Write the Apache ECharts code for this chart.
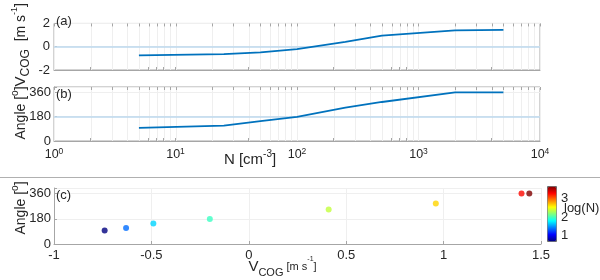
<!DOCTYPE html>
<html><head><meta charset="utf-8">
<script src="https://cdn.jsdelivr.net/npm/echarts@6/dist/echarts.min.js"></script>
<style>html,body{margin:0;padding:0;background:#fff}#c{width:600px;height:280px}</style>
</head><body><div id="c"></div>
<script>
// ---- data ----
const N = [5, 25, 50, 100, 250, 500, 2000, 5000];
const vcog = [-0.74, -0.63, -0.49, -0.20, 0.41, 0.96, 1.40, 1.44];
const angle = [97, 114, 147, 178, 247, 289, 360, 360];
const logTicks = [1,2,3,4,5,6,7,8,9,10,20,30,40,50,60,70,80,90,100,200,300,400,500,600,700,800,900,1000,2000,3000,4000,5000,6000,7000,8000,9000,10000];
const angleTicks = [0, 180, 360];
const cbTicks = [1, 2, 3];
const jet = ['#00007f','#0000ff','#007fff','#00ffff','#7fff7f','#ffff00','#ff7f00','#ff0000','#7f0000'];

// ---- styles ----
const FONT = '"Liberation Sans", Arial, sans-serif';
const TXT = '#262626';
const AX = '#a6a6a6';
const GRIDC = '#efefef';
const BLUE = '#0072BD';
const REF = '#bcd9ee';

const lineData = N.map((n, i) => [n, vcog[i]]);
const angData = N.map((n, i) => [n, angle[i]]);
const scatData = N.map((n, i) => [vcog[i], angle[i], Math.log10(n)]);
const gridData = logTicks.map(v => [v]);

const chart = echarts.init(document.getElementById('c'), null, {renderer: 'canvas'});

const lbl = {color: TXT, fontFamily: FONT, fontSize: 13};
const axLine = {show: true, onZero: false, lineStyle: {color: AX, width: 1}};
const tickIn = {show: true, inside: true, length: 3, lineStyle: {color: AX}};
const split = {show: true, lineStyle: {color: GRIDC, width: 1}};
function rn(v, sub, t, sup) {
  return {
    v: {fontSize: v, fontFamily: FONT, color: TXT, lineHeight: 22},
    sub: {fontSize: sub, fontFamily: FONT, color: TXT, verticalAlign: 'bottom', lineHeight: 14},
    t: {fontSize: t, fontFamily: FONT, color: TXT, lineHeight: 22},
    sup: {fontSize: sup, fontFamily: FONT, color: TXT, verticalAlign: 'top', lineHeight: 14}
  };
}
const logFmt = v => '{n|10}{sup|' + Math.round(Math.log10(v)) + '}';
const angFmt = v => (angleTicks.indexOf(v) >= 0 ? String(v) : '');

function logAxis(grid, labels, extra) {
  return Object.assign({
    type: 'log', logBase: 10, gridIndex: grid, position: 'bottom', min: 1, max: 10000,
    axisLine: axLine,
    axisTick: Object.assign({}, tickIn, {customValues: logTicks}),
    axisLabel: labels ? Object.assign({}, lbl, {margin: 6, formatter: logFmt,
      rich: {n: {fontSize: 12.5, fontFamily: FONT, color: TXT, lineHeight: 16},
             sup: {fontSize: 8.5, fontFamily: FONT, color: TXT, verticalAlign: 'top', lineHeight: 10}}}) : {show: false},
    splitLine: {show: false}
  }, extra || {});
}

// vertical grid lines (and top ticks) at every log tick, placed through the axis scale
function vGrid(xi, yi, yv) {
  return {
    type: 'custom', xAxisIndex: xi, yAxisIndex: yi, data: gridData, z: 1, silent: true,
    encode: {x: 0},
    renderItem: (params, api) => {
      const x = Math.round(api.coord([api.value(0), yv])[0]) + 0.5;
      const cs = params.coordSys;
      return {type: 'group', children: [
        {type: 'line', shape: {x1: x, y1: cs.y, x2: x, y2: cs.y + cs.height}, style: {stroke: GRIDC, lineWidth: 1}},
        {type: 'line', shape: {x1: x, y1: cs.y, x2: x, y2: cs.y + 3}, style: {stroke: AX, lineWidth: 1}}
      ]};
    }
  };
}

const option = {
  animation: false,
  backgroundColor: '#fff',
  grid: [
    {left: 54, top: 14, width: 486, height: 56, show: true, borderColor: AX, borderWidth: 1, backgroundColor: 'transparent'},
    {left: 54, top: 87, width: 486, height: 54, show: true, borderColor: AX, borderWidth: 1, backgroundColor: 'transparent'},
    {left: 54, top: 188, width: 487, height: 56},
    {left: 547, top: 186, width: 9, height: 55}
  ],
  xAxis: [
    logAxis(0, false),
    logAxis(1, true, {
      name: '{t|N [cm}{sup|-3}{t|]}', nameLocation: 'middle', nameGap: 8, nameMoveOverlap: false,
      nameTextStyle: {rich: rn(15, 11, 15, 10), padding: [0, 94, 0, 0]}
    }),
    {
      type: 'value', gridIndex: 2, min: -1, max: 1.5, interval: 0.5,
      axisLine: axLine, axisTick: tickIn,
      axisLabel: Object.assign({}, lbl, {margin: 5}),
      splitLine: split,
      name: '{v|V}{sub|COG}{t| [m s}{sup|-1}{t|]}', nameLocation: 'middle', nameGap: 12, nameMoveOverlap: false,
      nameTextStyle: {rich: rn(15, 11, 11, 7), padding: [0, 30, 0, 0]}
    },
    {type: 'value', gridIndex: 3, show: false, min: 0, max: 1}
  ],
  yAxis: [
    {
      type: 'value', gridIndex: 0, min: -2, max: 2, interval: 2,
      axisLine: axLine, axisTick: tickIn, axisLabel: Object.assign({}, lbl, {margin: 4}),
      splitLine: split,
      name: '{v|V}{sub|COG}{t|  [m s}{sup|-1}{t|]}', nameLocation: 'middle', nameGap: 22, nameMoveOverlap: false,
      nameTextStyle: {rich: rn(15, 12, 14, 9), padding: [0, 0, 0, 4]}
    },
    {
      type: 'value', gridIndex: 1, min: 0, max: 400, interval: 180,
      axisLine: axLine, axisTick: tickIn, axisLabel: Object.assign({}, lbl, {margin: 3, formatter: angFmt}),
      splitLine: split,
      name: '{t|Angle [}{sup|o}{t|]}', nameLocation: 'middle', nameGap: 22, nameMoveOverlap: false,
      nameTextStyle: {rich: rn(14, 10, 14, 10), padding: [0, 0, 0, 2]}
    },
    {
      type: 'value', gridIndex: 2, min: 0, max: 400, interval: 180,
      axisLine: axLine, axisTick: tickIn, axisLabel: Object.assign({}, lbl, {margin: 3, formatter: angFmt}),
      splitLine: split,
      name: '{t|Angle [}{sup|o}{t|]}', nameLocation: 'middle', nameGap: 22, nameMoveOverlap: false,
      nameTextStyle: {rich: rn(14, 10, 14, 10), padding: [0, 0, 0, 16]}
    },
    {
      type: 'value', gridIndex: 3, position: 'right', min: 0.7, max: 3.7,
      axisLine: {show: false}, axisTick: {show: false, customValues: cbTicks},
      axisLabel: Object.assign({}, lbl, {margin: 5, customValues: cbTicks}),
      splitLine: {show: false}
    }
  ],
  visualMap: [{
    type: 'continuous', seriesIndex: 4, dimension: 2, min: 0.7, max: 3.7,
    left: 547, top: 186, itemWidth: 9, itemHeight: 55, padding: 0,
    calculable: false, realtime: false, text: null, showLabel: false,
    borderColor: '#6a6a6a', borderWidth: 1,
    inRange: {color: jet}
  }],
  graphic: [
    {type: 'line', z: 100, shape: {x1: 0, y1: 177.5, x2: 600, y2: 177.5}, style: {stroke: '#b0b0b0', lineWidth: 1}, silent: true},
    {type: 'text', z: 100, left: 56, top: 15, style: {text: '(a)', fill: TXT, font: '13px ' + FONT}},
    {type: 'text', z: 100, left: 56, top: 88, style: {text: '(b)', fill: TXT, font: '13px ' + FONT}},
    {type: 'text', z: 100, left: 56, top: 189, style: {text: '(c)', fill: TXT, font: '13px ' + FONT}},
    {type: 'text', z: 100, left: 564, top: 202, style: {text: 'log(N)', fill: TXT, font: '13px ' + FONT}}
  ],
  series: [
    vGrid(0, 0, 0),
    vGrid(1, 1, 0),
    {
      type: 'line', xAxisIndex: 0, yAxisIndex: 0, data: lineData, showSymbol: false, z: 3,
      lineStyle: {color: BLUE, width: 1.8},
      markLine: {
        silent: true, symbol: 'none', z: 2, label: {show: false},
        lineStyle: {color: REF, width: 1.5, type: 'solid'},
        data: [{yAxis: 0}]
      }
    },
    {
      type: 'line', xAxisIndex: 1, yAxisIndex: 1, data: angData, showSymbol: false, z: 3,
      lineStyle: {color: BLUE, width: 1.8},
      markLine: {
        silent: true, symbol: 'none', z: 2, label: {show: false},
        lineStyle: {color: REF, width: 1.5, type: 'solid'},
        data: [{yAxis: 180}]
      }
    },
    {
      type: 'scatter', xAxisIndex: 2, yAxisIndex: 2, data: scatData, symbolSize: 6, z: 3
    }
  ]
};
chart.setOption(option);
</script>
</body></html>
